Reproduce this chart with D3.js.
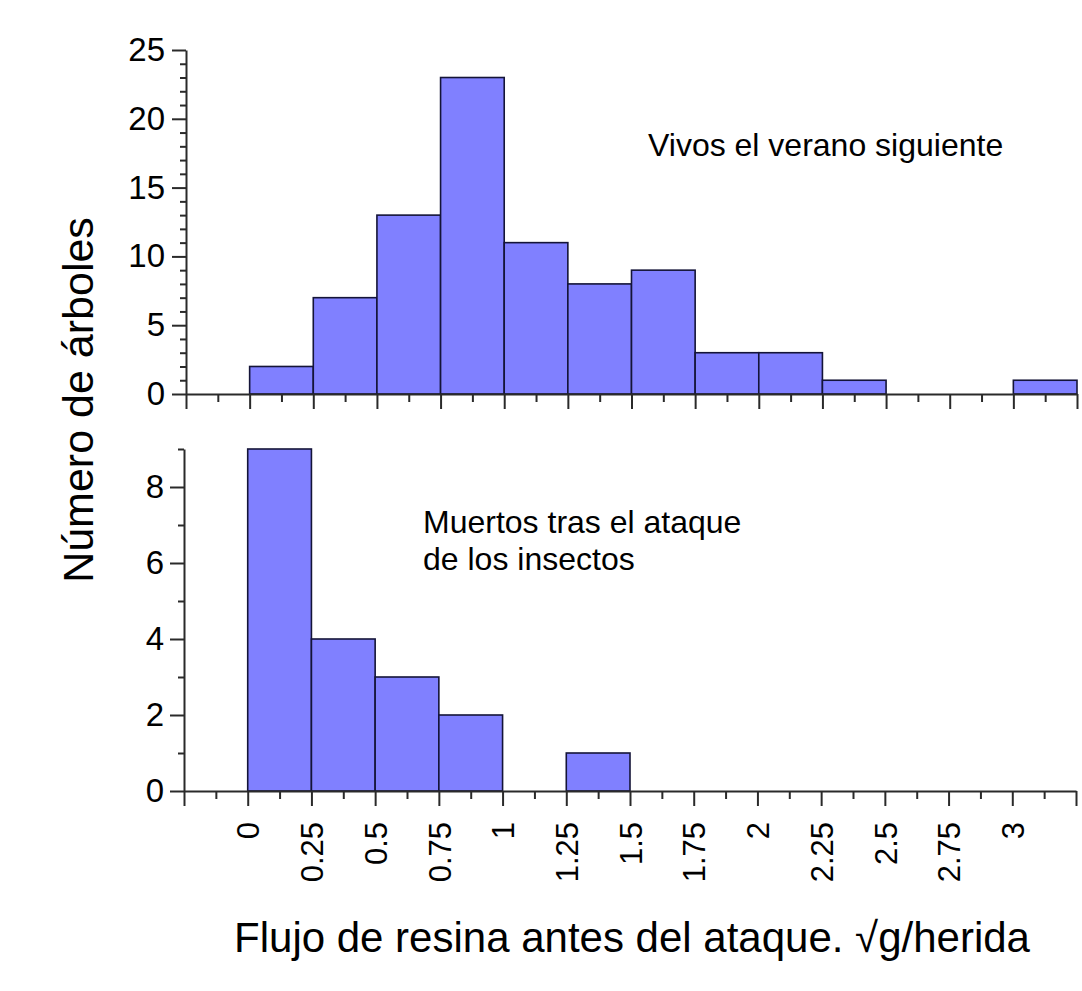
<!DOCTYPE html>
<meta charset="utf-8">
<title>Flujo de resina antes del ataque</title>
<style>
    body { margin: 0; background: #fff; }
    svg text { font-family: "Liberation Sans", Arial, sans-serif; fill: #000; }
    .axis path, .axis line { stroke: #2a2a2a; stroke-width: 2; }
</style>
<script src="https://d3js.org/d3.v7.min.js"></script>
<svg width="1082" height="991"></svg>
<script>
    // histogram bins (sqrt g / herida)
    const binEdges = [0, 0.25, 0.5, 0.75, 1, 1.25, 1.5, 1.75, 2, 2.25, 2.5, 2.75, 3, 3.25];
    const vivos    = [2, 7, 13, 23, 11, 8, 9, 3, 3, 1, 0, 0, 1];
    const muertos  = [9, 4, 3, 2, 0, 1, 0, 0, 0, 0, 0, 0, 0];

    const xMajor = [-0.25, 0, 0.25, 0.5, 0.75, 1, 1.25, 1.5, 1.75, 2, 2.25, 2.5, 2.75, 3, 3.25];
    const xLabels = ["", "0", "0.25", "0.5", "0.75", "1", "1.25", "1.5", "1.75", "2", "2.25", "2.5", "2.75", "3", ""];
    const yTopMajor = [0, 5, 10, 15, 20, 25];
    const yBotMajor = [0, 2, 4, 6, 8];

    const svg = d3.select("svg");

    const xMinor = xMajor.slice(0, -1).map(v => v + 0.125);

    function panel(opts) {
        const x = d3.scaleLinear().domain([-0.25, 3.25]).range([opts.left, opts.right]);
        const y = d3.scaleLinear().domain([0, opts.ymax]).range([opts.bottom, opts.top]);
        const g = svg.append("g");

        const bins = opts.counts.map((c, i) => ({x0: binEdges[i], x1: binEdges[i + 1], n: c}))
            .filter(d => d.n > 0);

        g.selectAll("rect")
            .data(bins)
            .enter()
            .append("rect")
            .attr("x", d => x(d.x0))
            .attr("y", d => y(d.n))
            .attr("width", d => x(d.x1) - x(d.x0))
            .attr("height", d => y(0) - y(d.n))
            .attr("fill", "#8080ff")
            .attr("stroke", "#141438")
            .attr("stroke-width", 1.6);

        // y axis
        g.append("g")
            .attr("class", "axis")
            .attr("transform", `translate(${opts.left},0)`)
            .call(d3.axisLeft(y).tickValues(opts.yMajor).tickSize(14).tickSizeOuter(0).tickPadding(opts.ypad))
            .call(a => a.selectAll("text").style("font-size", "33px").style("font-family", null));
        g.append("g")
            .attr("class", "axis")
            .attr("transform", `translate(${opts.left},0)`)
            .call(d3.axisLeft(y).tickValues(opts.yMinor).tickSize(6).tickFormat(""))
            .call(a => a.select(".domain").remove());

        // x axis
        const xa = g.append("g")
            .attr("class", "axis")
            .attr("transform", `translate(0,${opts.bottom})`)
            .call(d3.axisBottom(x).tickValues(xMajor).tickSize(15).tickSizeOuter(0)
                .tickFormat((d, i) => opts.labels ? xLabels[i] : ""));
        g.append("g")
            .attr("class", "axis")
            .attr("transform", `translate(0,${opts.bottom})`)
            .call(d3.axisBottom(x).tickValues(xMinor).tickSize(8).tickFormat(""))
            .call(a => a.select(".domain").remove());

        if (opts.labels) {
            xa.selectAll("text")
                .style("font-size", "31px")
                .style("font-family", null)
                .attr("text-anchor", "end")
                .attr("transform", "rotate(-90)")
                .attr("x", -31)
                .attr("y", 0)
                .attr("dy", "0.36em");
        }
    }

    panel({left: 186, right: 1077, top: 50, bottom: 394, ymax: 25,
           counts: vivos, yMajor: yTopMajor, yMinor: d3.range(1, 25).filter(v => v % 5),
           ypad: 7, labels: false});
    panel({left: 184, right: 1076, top: 449, bottom: 791, ymax: 9,
           counts: muertos, yMajor: yBotMajor, yMinor: [1, 3, 5, 7, 9],
           ypad: 6, labels: true});

    // annotations
    svg.append("text")
        .attr("x", 648).attr("y", 156)
        .style("font-size", "32px")
        .text("Vivos el verano siguiente");

    svg.append("text")
        .attr("x", 423).attr("y", 533)
        .style("font-size", "32px")
        .text("Muertos tras el ataque");
    svg.append("text")
        .attr("x", 423).attr("y", 570)
        .style("font-size", "32px")
        .text("de los insectos");

    // axis titles
    svg.append("text")
        .attr("transform", "translate(93,400) rotate(-90)")
        .attr("text-anchor", "middle")
        .style("font-size", "43px")
        .text("Número de árboles");

    svg.append("text")
        .attr("x", 632).attr("y", 952)
        .attr("text-anchor", "middle")
        .style("font-size", "42px")
        .text("Flujo de resina antes del ataque. √g/herida");
</script>
